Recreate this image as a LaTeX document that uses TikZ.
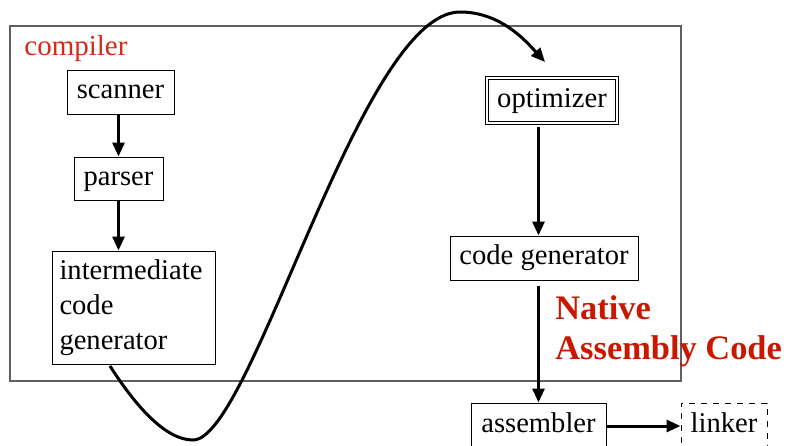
\documentclass[tikz,border=0pt]{standalone}
\usepackage{fontspec}
\setmainfont{Liberation Serif}
\usepackage{tikz}
\usetikzlibrary{arrows.meta, calc, positioning}
\definecolor{lblred}{RGB}{215,40,25}
\definecolor{natred}{RGB}{200,25,0}
\definecolor{framegray}{RGB}{95,95,95}

\begin{document}
\begin{tikzpicture}[
            x=0.5pt, y=-0.5pt,
            box/.style={draw, line width=0.5pt, inner sep=0pt, font=\fontsize{14.3}{17.5}\selectfont},
            onerow/.style={box, text height=10pt, text depth=3.4pt},
            >={Triangle[length=7pt, width=6pt]},
            flow/.style={->, line width=1.5pt}
        ]
            \clip (0,0) rectangle (786,445);
            \useasboundingbox (0,0) rectangle (786,445);
            \draw[framegray, line width=0.6pt] (10,26) rectangle (681,381);
            \node[anchor=west, inner sep=0pt, text=lblred, font=\fontsize{14.5}{17}\selectfont] (lbl) at (24,49) {compiler};
            \node[onerow, minimum width=53.5pt, minimum height=22pt] (scan) at (120.5,92) {scanner};
            \node[onerow, minimum width=44.5pt, minimum height=21.5pt] (pars) at (118.5,178.5) {parser};
            \node[box, minimum width=81.5pt, minimum height=56.5pt, align=left, text width=74pt, text height=10pt] (inter) at (133.5,307.5) {intermediate\\code\\generator};
            \node[onerow, double, double distance=1pt, minimum width=65pt, minimum height=22.5pt] (opt) at (552,100.5) {optimizer};
            \node[onerow, minimum width=94pt, minimum height=22pt] (cg) at (544,258) {code generator};
            \node[onerow, minimum width=67.5pt, minimum height=23pt] (asm) at (538.5,426) {assembler};
            \node[onerow, dashed, minimum width=43pt, minimum height=23pt] (link) at (724,426) {linker};
            \node[anchor=west, inner sep=0pt, align=left, text=natred, font=\bfseries\fontsize{17.2}{20}\selectfont] (nat) at (555,331) {Native\\Assembly Code};
            \coordinate (bend) at (193,440);
            \coordinate (peak) at (460,12);
            \coordinate (optin) at (545,62);
            \path[flow]
            (pars.north |- scan.south) edge (pars.north)
            (pars.south) edge (pars.south |- inter.north)
            ($(opt.south -| asm.north)+(0,3)$) edge (cg.north -| asm.north)
            ($(cg.south -| asm.north)+(0,5)$) edge (asm.north)
            (asm.east) edge (link.west)
            ;
            \draw[flow] (110,366) .. controls (135,405) and (165,440) .. (bend)
                .. controls (252,440) and (360,12) .. (peak)
                .. controls (500,12) and (525,40) .. (optin);
        \end{tikzpicture}
\end{document}
